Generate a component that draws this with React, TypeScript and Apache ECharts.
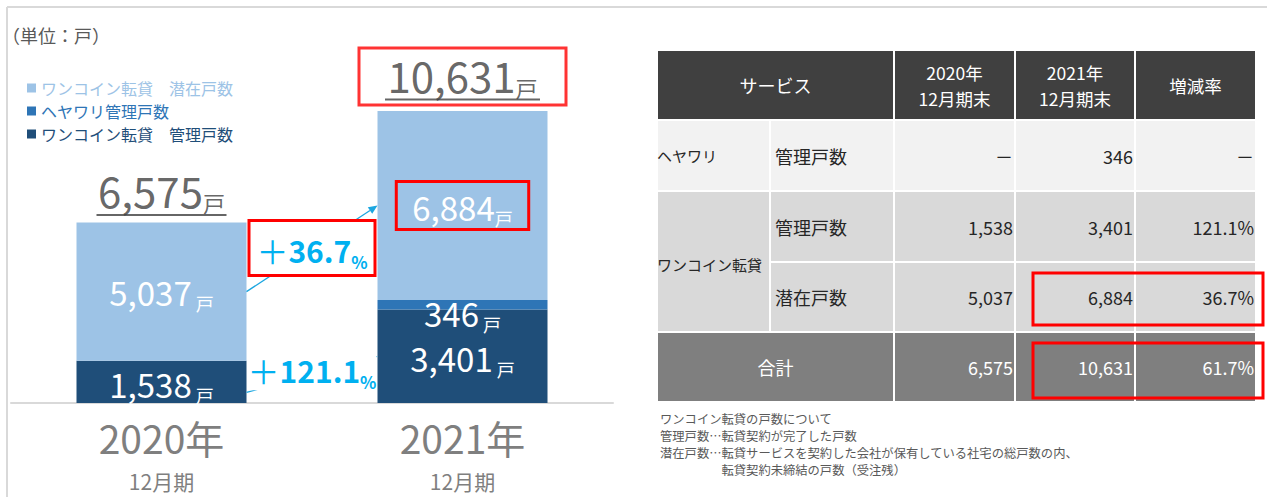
import React, { useEffect, useRef } from 'react';
import * as echarts from 'echarts';

// ---------- data ----------
const categories = ['2020年', '2021年'];
const periodLabel = '12月期';
const seriesNames = ['ワンコイン転貸　管理戸数', 'ヘヤワリ管理戸数', 'ワンコイン転貸　潜在戸数'];
const wanManaged = [1538, 3401];
const heyawariManaged = [0, 346];
const wanPotential = [5037, 6884];
const totals = [6575, 10631];
const growthManaged = '121.1';
const growthPotential = '36.7';

const tableHeaders = ['サービス', '2020年\n12月期末', '2021年\n12月期末', '増減率'];
const rateHeyawari = '－';
const rateManaged = '121.1%';
const ratePotential = '36.7%';
const rateTotal = '61.7%';
const notes = [
  'ワンコイン転貸の戸数について',
  '管理戸数…転貸契約が完了した戸数',
  '潜在戸数…転貸サービスを契約した会社が保有している社宅の総戸数の内、',
  '　　　　　転貸契約未締結の戸数（受注残）',
];

// ---------- style ----------
const FONT = '"Noto Sans CJK JP", "Noto Sans", sans-serif';
const LIGHT = '#9DC3E6';
const MID = '#2E75B6';
const DARK = '#1F4E79';
const CYAN = '#00B0F0';
const ARROW = '#1BA6E0';
const RED = '#FF0000';
const BAR_W = 170;

const fmt = (v: number) => v.toLocaleString('en-US');

const inRich = {
  n: { fontSize: 33, color: '#fff', fontFamily: FONT, lineHeight: 40 },
  u: { fontSize: 18, color: '#fff', fontFamily: FONT, lineHeight: 30, verticalAlign: 'bottom' },
};

export default function App() {
  const ref = useRef<HTMLDivElement>(null);
  useEffect(() => {
    const chart = echarts.init(ref.current!, null, { renderer: 'svg' });
    const option: any = {
      animation: false,
      textStyle: { fontFamily: FONT },
      grid: { left: 11, width: 602, top: 46, bottom: 94 },
      legend: {
        orient: 'vertical',
        left: 22,
        top: 74,
        icon: 'rect',
        itemWidth: 9,
        itemHeight: 9,
        itemGap: 5,
        selectedMode: false,
        textStyle: { fontSize: 16, fontFamily: FONT, lineHeight: 18 },
        data: [
          { name: seriesNames[2], textStyle: { color: LIGHT } },
          { name: seriesNames[1], textStyle: { color: MID } },
          { name: seriesNames[0], textStyle: { color: DARK } },
        ],
      },
      xAxis: {
        type: 'category',
        data: categories,
        axisLine: { lineStyle: { color: '#d9d9d9', width: 2 } },
        axisTick: { show: false },
        axisLabel: {
          margin: 10,
          formatter: (v: string) => `{y|${v}}\n{p|${periodLabel}}`,
          rich: {
            y: { fontSize: 39, color: '#7f7f7f', lineHeight: 48, fontFamily: FONT },
            p: { fontSize: 21, color: '#7f7f7f', lineHeight: 40, fontFamily: FONT },
          },
        },
      },
      yAxis: { type: 'value', min: 0, max: 13000, show: false, splitLine: { show: false } },
      series: [
        {
          name: seriesNames[0],
          type: 'bar',
          stack: 'a',
          barWidth: BAR_W,
          data: wanManaged,
          itemStyle: { color: DARK },
          label: {
            show: true,
            position: 'inside',
            offset: [0, 2],
            formatter: (p: any) => `{n|${fmt(p.value)}}{u| 戸}`,
            rich: inRich,
          },
        },
        {
          name: seriesNames[1],
          type: 'bar',
          stack: 'a',
          barWidth: BAR_W,
          data: heyawariManaged,
          itemStyle: { color: MID },
          label: {
            show: true,
            position: 'inside',
            offset: [0, 8],
            formatter: (p: any) => (p.value ? `{n|${fmt(p.value)}}{u| 戸}` : ''),
            rich: inRich,
          },
        },
        {
          name: seriesNames[2],
          type: 'bar',
          stack: 'a',
          barWidth: BAR_W,
          itemStyle: { color: LIGHT },
          data: wanPotential.map((v, i) =>
            i === 1
              ? {
                  value: v,
                  label: {
                    borderColor: RED,
                    borderWidth: 3,
                    padding: [5, 16, 3, 16],
                    formatter: (p: any) => `{n|${fmt(p.value)}}{u|戸}`,
                  },
                }
              : { value: v }
          ),
          label: {
            show: true,
            position: 'inside',
            formatter: (p: any) => `{n|${fmt(p.value)}}{u| 戸}`,
            rich: inRich,
          },
        },
        {
          name: 'total',
          type: 'scatter',
          symbolSize: 0,
          z: 10,
          data: totals.map((v, i) => ({
            value: v,
            label:
              i === 1
                ? {
                    borderColor: RED,
                    borderWidth: 3,
                    padding: [2, 26, 4, 26],
                    distance: 6,
                    rich: { l: { width: 155, height: 2, lineHeight: 3, fontSize: 2, backgroundColor: '#404040' } },
                  }
                : {
                    distance: 6,
                    rich: { l: { width: 130, height: 2, lineHeight: 3, fontSize: 2, backgroundColor: '#404040' } },
                  },
          })),
          label: {
            show: true,
            position: 'top',
            formatter: (p: any) => `{n|${fmt(p.value)}}{u|戸}\n{l| }`,
            rich: {
              n: { fontSize: 42, color: '#404040', fontFamily: FONT, lineHeight: 48 },
              u: { fontSize: 22, color: '#404040', fontFamily: FONT, lineHeight: 32, verticalAlign: 'bottom' },
              l: { width: 130, height: 2, lineHeight: 3, fontSize: 2, backgroundColor: '#404040' },
            },
          },
        },
      ],
    };
    chart.setOption(option);

    // ---------- annotations from scale ----------
    const px = (i: number, v: number) => chart.convertToPixel({ xAxisIndex: 0, yAxisIndex: 0 }, [i, v]) as number[];
    const half = BAR_W / 2;
    const b1r = px(0, 0)[0] + half;
    const b2l = px(1, 0)[0] - half;

    const arrow = (x1: number, y1: number, x2: number, y2: number) => {
      const a = Math.atan2(y2 - y1, x2 - x1);
      const L = 9;
      const W = 4;
      const bx = x2 - L * Math.cos(a);
      const by = y2 - L * Math.sin(a);
      return [
        { type: 'line', z: 20, shape: { x1, y1, x2: bx, y2: by }, style: { stroke: ARROW, lineWidth: 1.3 } },
        {
          type: 'polygon',
          z: 20,
          shape: {
            points: [
              [x2, y2],
              [bx - W * Math.sin(a), by + W * Math.cos(a)],
              [bx + W * Math.sin(a), by - W * Math.cos(a)],
            ],
          },
          style: { fill: ARROW },
        },
      ];
    };

    const a1s = [b1r, px(0, wanManaged[0] + heyawariManaged[0] + wanPotential[0] / 2)[1]];
    const a1e = [b2l, px(1, wanManaged[1] + heyawariManaged[1] + wanPotential[1] / 2)[1]];
    const a2s = [b1r, px(0, wanManaged[0] * 0.25)[1]];
    const a2e = [b2l, px(1, wanManaged[1] / 2)[1]];
    const m1 = [(a1s[0] + a1e[0]) / 2, (a1s[1] + a1e[1]) / 2];
    const m2 = [(a2s[0] + a2e[0]) / 2, (a2s[1] + a2e[1]) / 2 - 4];

    const growthRich = {
      p: { fontSize: 32, fill: CYAN, fontFamily: FONT, lineHeight: 40 },
      n: { fontSize: 30, fill: CYAN, fontWeight: 'bold', fontFamily: FONT, lineHeight: 40 },
      s: { fontSize: 17, fill: CYAN, fontWeight: 'bold', fontFamily: FONT, lineHeight: 28, verticalAlign: 'bottom' },
    };
    const centerText = (x: number, y: number, text: string, extra: any = {}) => ({
      type: 'text',
      x,
      y,
      z: 30,
      style: {
        text,
        fill: CYAN,
        align: 'center',
        verticalAlign: 'middle',
        textAlign: 'center',
        textVerticalAlign: 'middle',
        fontFamily: FONT,
        ...extra,
      },
    });

    const g: any[] = [];
    // frame
    g.push({ type: 'line', shape: { x1: 7, y1: 7, x2: 1267, y2: 7 }, style: { stroke: '#d9d9d9', lineWidth: 2 } });
    g.push({ type: 'line', shape: { x1: 7, y1: 7, x2: 7, y2: 497 }, style: { stroke: '#d9d9d9', lineWidth: 2 } });
    // unit
    g.push({
      type: 'text',
      x: 2,
      y: 35,
      style: { text: '（単位：戸）', fontSize: 18, fill: '#595959', fontFamily: FONT, verticalAlign: 'middle', textVerticalAlign: 'middle' },
    });
    // arrows + growth labels
    g.push(...arrow(a1s[0], a1s[1], a1e[0], a1e[1]));
    g.push(...arrow(a2s[0], a2s[1], a2e[0], a2e[1]));
    g.push({
      type: 'rect',
      z: 25,
      shape: { x: m1[0] - 63, y: m1[1] - 28, width: 126, height: 55 },
      style: { fill: '#fff', stroke: RED, lineWidth: 3 },
    });
    g.push(centerText(m1[0], m1[1] + 1, `{p|＋}{n|${growthPotential}}{s|%}`, { rich: growthRich }));
    g.push(
      centerText(m2[0], m2[1], `{p|＋}{n|${growthManaged}}{s|%}`, {
        rich: growthRich,
        backgroundColor: '#fff',
      })
    );

    // ---------- table ----------
    const cx = [657, 770, 894, 1015, 1135, 1256];
    const ry = [50, 120, 191, 262, 332, 402];
    const cell = (x0: number, y0: number, x1: number, y1: number, fill: string) => ({
      type: 'rect',
      shape: { x: x0 + 1, y: y0 + 1, width: x1 - x0 - 2, height: y1 - y0 - 2 },
      style: { fill },
    });
    const HEAD = '#404040';
    const R1 = '#F2F2F2';
    const R2 = '#D9D9D9';
    const TOT = '#7F7F7F';
    g.push(cell(cx[0], ry[0], cx[2], ry[1], HEAD));
    for (let c = 2; c < 5; c++) g.push(cell(cx[c], ry[0], cx[c + 1], ry[1], HEAD));
    for (let c = 0; c < 5; c++) g.push(cell(cx[c], ry[1], cx[c + 1], ry[2], R1));
    g.push(cell(cx[0], ry[2], cx[1], ry[4], R2));
    for (let r = 2; r < 4; r++) for (let c = 1; c < 5; c++) g.push(cell(cx[c], ry[r], cx[c + 1], ry[r + 1], R2));
    g.push(cell(cx[0], ry[4], cx[2], ry[5], TOT));
    for (let c = 2; c < 5; c++) g.push(cell(cx[c], ry[4], cx[c + 1], ry[5], TOT));

    const tText = (x: number, y: number, text: string, align: string, color: string, extra: any = {}) => ({
      type: 'text',
      x,
      y,
      z: 5,
      style: {
        text,
        fontSize: 18,
        fill: color,
        fontFamily: FONT,
        align,
        textAlign: align,
        verticalAlign: 'middle',
        textVerticalAlign: 'middle',
        ...extra,
      },
    });
    const mid = (a: number, b: number) => (a + b) / 2;
    g.push(tText(mid(cx[0], cx[2]), mid(ry[0], ry[1]), tableHeaders[0], 'center', '#fff'));
    for (let c = 1; c < 4; c++)
      g.push(
        tText(mid(cx[c + 1], cx[c + 2]), mid(ry[0], ry[1]), tableHeaders[c], 'center', '#fff', {
          fontSize: 17.5,
          lineHeight: 26,
        })
      );

    const dark = '#262626';
    const rowsData = [
      {
        y: mid(ry[1], ry[2]),
        item: '管理戸数',
        v: [heyawariManaged[0] ? fmt(heyawariManaged[0]) : '－', fmt(heyawariManaged[1]), rateHeyawari],
      },
      { y: mid(ry[2], ry[3]), item: '管理戸数', v: [fmt(wanManaged[0]), fmt(wanManaged[1]), rateManaged] },
      { y: mid(ry[3], ry[4]), item: '潜在戸数', v: [fmt(wanPotential[0]), fmt(wanPotential[1]), ratePotential] },
    ];
    g.push(tText(cx[0], mid(ry[1], ry[2]), 'ヘヤワリ', 'left', dark, { fontSize: 15 }));
    g.push(tText(cx[0], mid(ry[2], ry[4]) + 3, 'ワンコイン転貸', 'left', dark, { fontSize: 15 }));
    rowsData.forEach((r) => {
      g.push(tText(cx[1] + 5, r.y, r.item, 'left', dark));
      r.v.forEach((t, k) => g.push(tText(cx[k + 3] - 2, r.y, t, 'right', dark)));
    });
    const ty = mid(ry[4], ry[5]);
    g.push(tText(mid(cx[0], cx[2]), ty, '合計', 'center', '#fff'));
    [fmt(totals[0]), fmt(totals[1]), rateTotal].forEach((t, k) => g.push(tText(cx[k + 3] - 2, ty, t, 'right', '#fff')));

    g.push({
      type: 'rect',
      z: 8,
      shape: { x: 1033, y: 273, width: 230, height: 52 },
      style: { fill: 'none', stroke: RED, lineWidth: 3 },
    });
    g.push({
      type: 'rect',
      z: 8,
      shape: { x: 1033, y: 343, width: 230, height: 55 },
      style: { fill: 'none', stroke: RED, lineWidth: 3 },
    });

    g.push({
      type: 'text',
      x: 660,
      y: 410,
      style: { text: notes.join('\n'), fontSize: 12.3, lineHeight: 17, fill: '#595959', fontFamily: FONT },
    });

    chart.setOption({ graphic: { elements: g } });
    return () => chart.dispose();
  }, []);
  return <div ref={ref} style={{ position: 'absolute', left: 0, top: 0, width: 1267, height: 497 }} />;
}
